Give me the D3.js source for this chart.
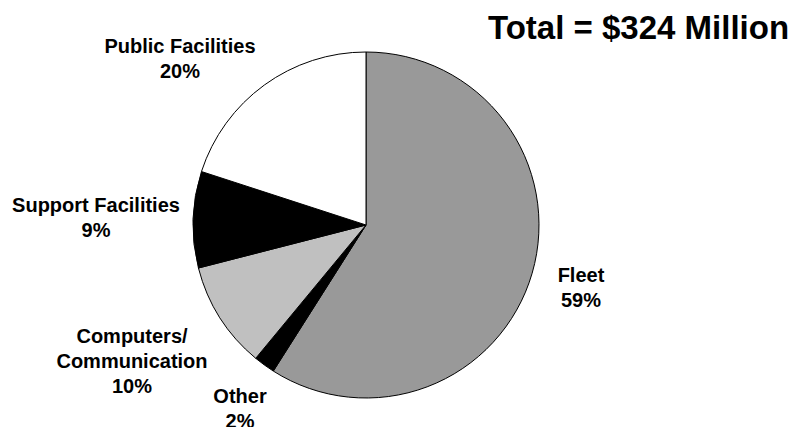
<!DOCTYPE html>
<html>
<head>
<meta charset="utf-8">
<script src="https://cdn.jsdelivr.net/npm/d3@7"></script>
<style>
  html, body { margin: 0; padding: 0; background: #fff; }
  svg { display: block; font-family: "Liberation Sans", Arial, sans-serif; font-weight: bold; }
</style>
</head>
<body>
<div id="chart"></div>
<script>
// Chart data
const categories = ["Fleet", "Other", "Computers/\nCommunication", "Support Facilities", "Public Facilities"];
const shares = [59, 2, 10, 9, 20];
const fills = ["#999999", "#000000", "#c0c0c0", "#000000", "#ffffff"];
const title = "Total = $324 Million";

// Label anchor spots (middle of first text line baseline), layout only
const labelXY = [[581, 282], [240, 403], [132, 343], [96, 212], [180, 53]];

const width = 800, height = 427;
const cx = 366, cy = 225, radius = 173;
const lineGap = 25;

const svg = d3.select("#chart").append("svg")
  .attr("width", width)
  .attr("height", height);

// Pie slices, clockwise from 12 o'clock
const pie = d3.pie().sort(null).value(d => d);
const arc = d3.arc().innerRadius(0).outerRadius(radius);

const g = svg.append("g").attr("transform", `translate(${cx},${cy})`);

g.selectAll("path")
  .data(pie(shares))
  .enter().append("path")
  .attr("d", arc)
  .attr("fill", (d, i) => fills[i])
  .attr("stroke", "#000")
  .attr("stroke-width", 1);

// Labels: name lines then percent
const labels = svg.selectAll(".lbl")
  .data(categories)
  .enter().append("text")
  .attr("class", "lbl")
  .attr("text-anchor", "middle")
  .attr("font-size", 20)
  .attr("fill", "#000");

labels.each(function (name, i) {
  const lines = name.split("\n").concat([shares[i] + "%"]);
  const t = d3.select(this);
  lines.forEach((line, j) => {
    t.append("tspan")
      .attr("x", labelXY[i][0])
      .attr("y", labelXY[i][1] + j * lineGap)
      .text(line);
  });
});

// Title
svg.append("text")
  .attr("x", 488)
  .attr("y", 39)
  .attr("font-size", 33)
  .attr("fill", "#000")
  .text(title);
</script>
</body>
</html>
